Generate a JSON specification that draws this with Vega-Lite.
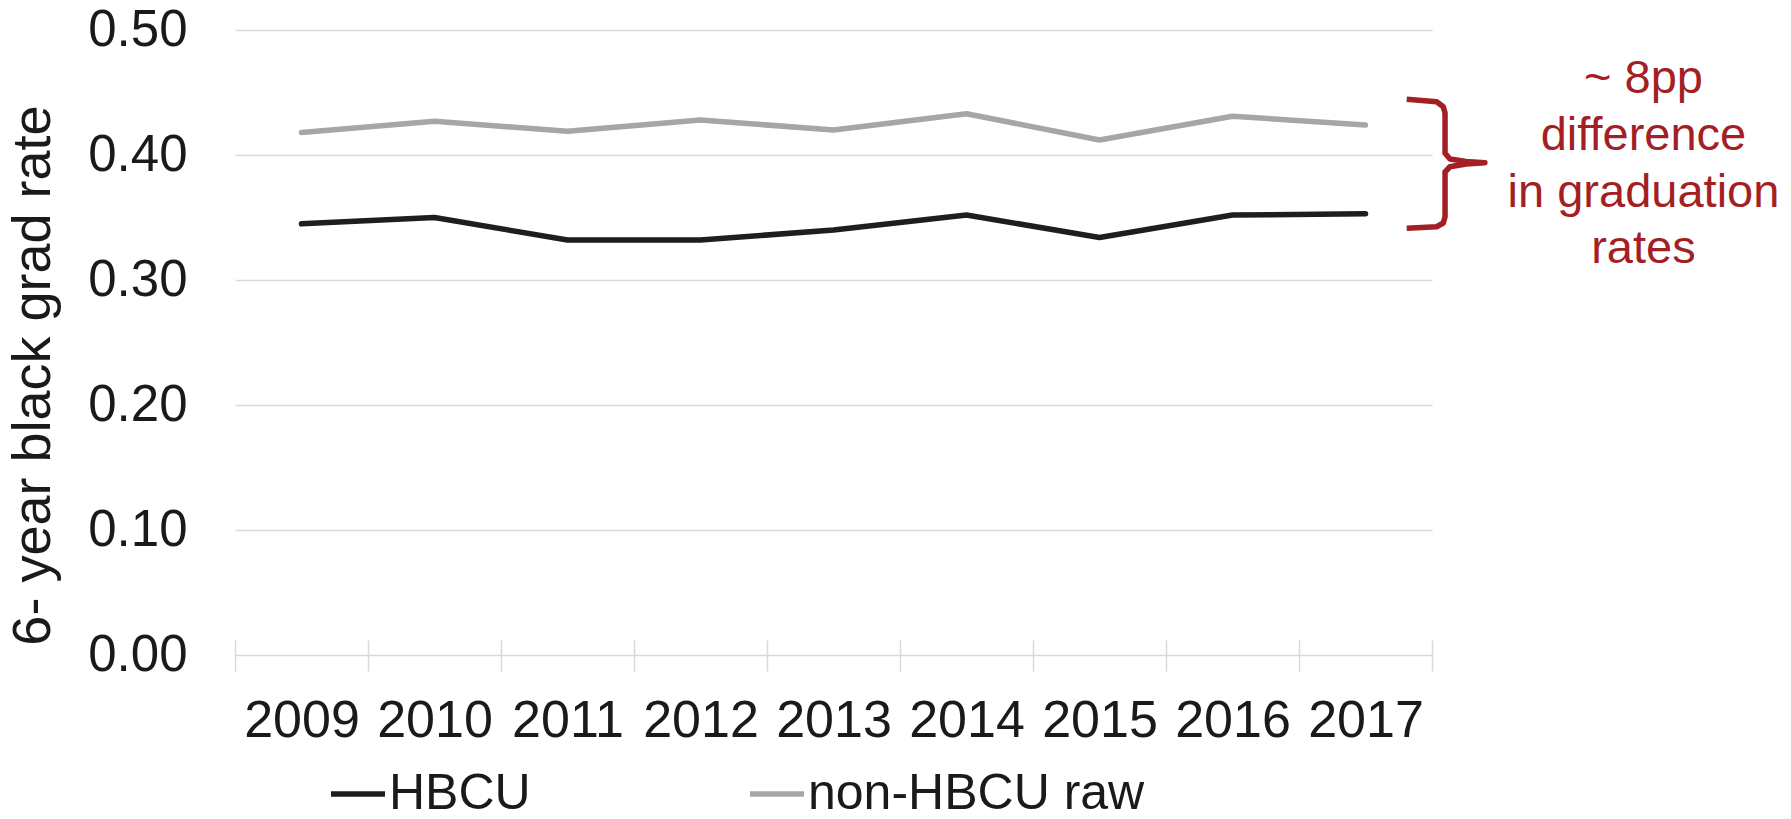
{
  "$schema": "https://vega.github.io/schema/vega-lite/v6.json",
  "width": 1197,
  "height": 625,
  "autosize": {"type": "none"},
  "padding": {"left": 235, "top": 30, "right": 359, "bottom": 164},
  "background": "white",
  "config": {"view": {"stroke": null}, "font": "Liberation Sans"},
  "datasets": {
    "rates": [
      {"year": 2009, "series": "HBCU", "rate": 0.345},
      {"year": 2010, "series": "HBCU", "rate": 0.350},
      {"year": 2011, "series": "HBCU", "rate": 0.332},
      {"year": 2012, "series": "HBCU", "rate": 0.332},
      {"year": 2013, "series": "HBCU", "rate": 0.340},
      {"year": 2014, "series": "HBCU", "rate": 0.352},
      {"year": 2015, "series": "HBCU", "rate": 0.334},
      {"year": 2016, "series": "HBCU", "rate": 0.352},
      {"year": 2017, "series": "HBCU", "rate": 0.353},
      {"year": 2009, "series": "non-HBCU raw", "rate": 0.418},
      {"year": 2010, "series": "non-HBCU raw", "rate": 0.427},
      {"year": 2011, "series": "non-HBCU raw", "rate": 0.419},
      {"year": 2012, "series": "non-HBCU raw", "rate": 0.428},
      {"year": 2013, "series": "non-HBCU raw", "rate": 0.420},
      {"year": 2014, "series": "non-HBCU raw", "rate": 0.433},
      {"year": 2015, "series": "non-HBCU raw", "rate": 0.412},
      {"year": 2016, "series": "non-HBCU raw", "rate": 0.431},
      {"year": 2017, "series": "non-HBCU raw", "rate": 0.424}
    ],
    "brace": [
      {"i": 0, "year": 2017.310, "rate": 0.4446},
      {"i": 1, "year": 2017.535, "rate": 0.4426},
      {"i": 2, "year": 2017.585, "rate": 0.4386},
      {"i": 3, "year": 2017.598, "rate": 0.4336},
      {"i": 4, "year": 2017.598, "rate": 0.4014},
      {"i": 5, "year": 2017.635, "rate": 0.3968},
      {"i": 6, "year": 2017.756, "rate": 0.3948},
      {"i": 7, "year": 2017.898, "rate": 0.3938},
      {"i": 8, "year": 2017.756, "rate": 0.3928},
      {"i": 9, "year": 2017.635, "rate": 0.3906},
      {"i": 10, "year": 2017.598, "rate": 0.3864},
      {"i": 11, "year": 2017.598, "rate": 0.3506},
      {"i": 12, "year": 2017.585, "rate": 0.3456},
      {"i": 13, "year": 2017.535, "rate": 0.3426},
      {"i": 14, "year": 2017.310, "rate": 0.3414}
    ]
  },
  "layer": [
    {
      "data": {"name": "rates"},
      "mark": {"type": "line", "strokeWidth": 5.5, "strokeCap": "round", "strokeJoin": "round"},
      "encoding": {
        "x": {
          "field": "year", "type": "ordinal", "bandPosition": 0.5,
          "scale": {"type": "band", "paddingInner": 0, "paddingOuter": 0},
          "axis": {
            "title": null, "labelFontSize": 52, "labelColor": "#1a1a1a", "labelAngle": 0,
            "labelBaseline": "alphabetic", "labelPadding": 65.7, "labelOverlap": false,
            "tickSize": 31, "tickColor": "#d9d9d9", "tickWidth": 1.5, "tickBand": "extent",
            "domain": false, "grid": false, "offset": -15
          }
        },
        "y": {
          "field": "rate", "type": "quantitative",
          "scale": {"domain": [0, 0.5], "nice": false},
          "axis": {
            "title": "6- year black grad rate", "values": [0, 0.1, 0.2, 0.3, 0.4, 0.5], "format": ".2f",
            "labelFontSize": 51, "labelColor": "#1a1a1a", "labelPadding": 48, "labelOverlap": false,
            "ticks": false, "domain": false, "grid": true, "gridColor": "#d9d9d9", "gridWidth": 1.5,
            "titleFontSize": 54, "titleFontWeight": "normal", "titleColor": "#1a1a1a",
            "titleX": -186, "titleY": 345, "titleAngle": -90, "titleAlign": "center", "titleBaseline": "alphabetic"
          }
        },
        "color": {
          "field": "series", "type": "nominal",
          "scale": {"domain": ["HBCU", "non-HBCU raw"], "range": ["#1e1e1e", "#a6a6a6"]},
          "legend": {
            "orient": "none", "legendX": 93, "legendY": 734, "direction": "horizontal", "title": null,
            "labelFontSize": 50, "labelColor": "#1a1a1a", "symbolType": "stroke", "symbolSize": 2916,
            "symbolStrokeWidth": 5.5, "labelOffset": 1, "columnPadding": 208, "labelLimit": 600,
            "padding": 0, "offset": 0
          }
        }
      }
    },
    {
      "data": {"name": "brace"},
      "mark": {"type": "line", "color": "#a31f24", "strokeWidth": 5.5, "strokeJoin": "round"},
      "encoding": {
        "x": {"field": "year", "type": "quantitative", "scale": {"domain": [2008.5, 2017.5], "nice": false, "zero": false}, "axis": null},
        "y": {"field": "rate", "type": "quantitative"},
        "order": {"field": "i", "type": "quantitative"}
      }
    },
    {
      "data": {"values": [{}]},
      "mark": {
        "type": "text", "text": ["~ 8pp", "difference", "in graduation", "rates"],
        "fontSize": 47, "lineHeight": 56.7, "color": "#a31f24", "align": "center", "baseline": "alphabetic"
      },
      "encoding": {
        "x": {"datum": 2019.09, "type": "quantitative", "scale": {"domain": [2008.5, 2017.5], "nice": false, "zero": false}, "axis": null},
        "y": {"datum": 0.4494, "type": "quantitative"}
      }
    }
  ],
  "resolve": {"scale": {"x": "independent"}}
}
